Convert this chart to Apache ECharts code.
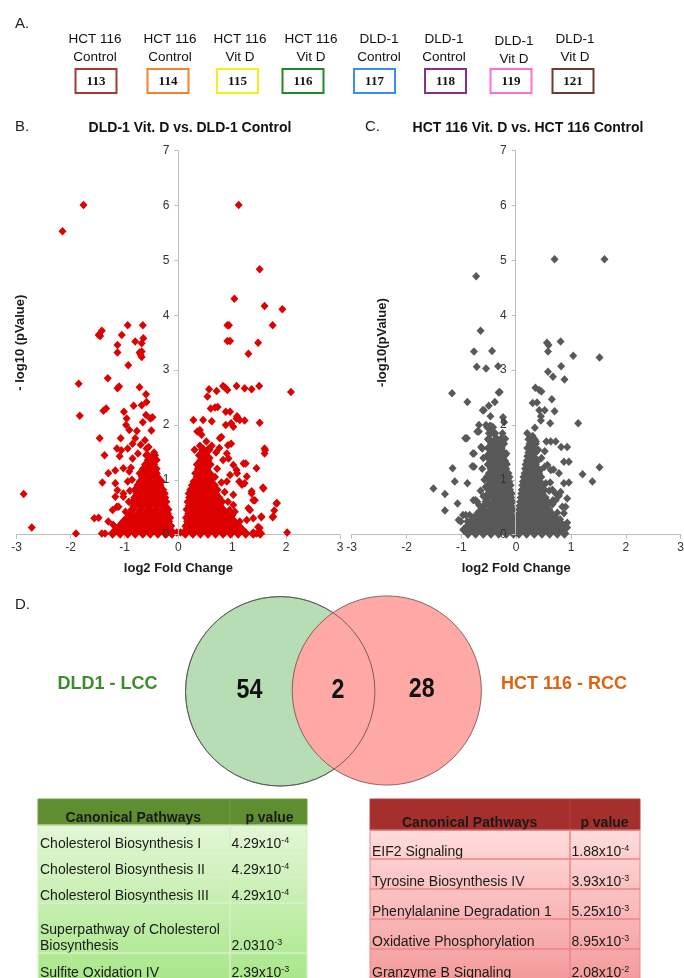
<!DOCTYPE html>
<html><head><meta charset="utf-8">
<script src="https://cdn.jsdelivr.net/npm/echarts@6/dist/echarts.min.js"></script>
<style>html,body{margin:0;padding:0;background:#fff}#c{width:684px;height:978px}</style>
</head><body><div id="c"></div>
<script>
// ---------- Panel A data ----------
const sampleLine1 = ['HCT 116','HCT 116','HCT 116','HCT 116','DLD-1','DLD-1','DLD-1','DLD-1'];
const sampleLine2 = ['Control','Control','Vit D','Vit D','Control','Control','Vit D','Vit D'];
const sampleTags = ['113','114','115','116','117','118','119','121'];
const tagColors = ['#a33b35','#f5822f','#f3ee1c','#1f8a2b','#3d8cf0','#8b2f8c','#ff6fd3','#6e3b33'];

// ---------- Volcano titles / ticks ----------
const plotTitles = ['DLD-1 Vit. D vs. DLD-1 Control','HCT 116 Vit. D vs. HCT 116 Control'];
const yAxisNames = ['- log10 (pValue)','-log10(pValue)'];
const xAxisName = 'log2 Fold Change';

// ---------- DLD-1 (B) points: scattered values ----------
const dldScatter = [
[-2.87,0.74],[-2.72,0.13],[-1.90,0.02],[-2.15,5.53],[-1.76,6.01],
[-1.85,2.75],[-1.83,2.17],[-1.48,3.64],[-1.42,3.72],[-1.45,3.62],
[-0.94,3.82],[-0.66,3.82],[-1.05,3.64],[-1.13,3.46],[-1.13,3.32],[-0.93,3.09],
[-0.65,3.58],[-0.68,3.49],[-0.80,3.52],[-0.72,3.32],[-0.68,3.24],[-0.68,3.34],[-0.70,3.28],
[-1.31,2.85],[-1.13,2.67],[-1.10,2.70],[-0.72,2.69],[-0.60,2.56],
[-1.39,2.26],[-1.34,2.30],[-0.83,2.35],[-0.68,2.36],[-1.01,2.24],[-0.96,2.12],[-0.97,2.00],
[-0.60,2.18],[-0.48,2.14],[-0.52,2.12],[-0.59,2.42],
[-1.46,1.76],[-1.07,1.76],[-0.77,1.89],[-1.14,1.57],[-1.37,1.45],[-1.09,1.43],[-0.85,1.39],[-0.94,1.57],[-0.59,1.57],
[-1.30,1.12],[-1.17,1.17],[-1.41,0.95],[-1.17,0.94],[-1.56,0.30],[-1.48,0.31],[-1.42,0.02],[-1.36,0.02],
[-1.22,0.45],[-1.14,0.51],[-1.17,0.69],[-1.13,0.81],[-1.02,0.69],[-0.96,0.27],[-1.05,0.21],
[-1.02,1.21],[-0.94,0.97],[-0.91,1.15],[-1.06,1.54],[-0.85,1.66],[-0.91,1.91],[-1.30,0.24],[-1.21,0.18],[-1.11,0.51],[-1.02,0.75],
[-0.80,1.76],[-0.70,1.64],[-0.62,1.72],[-0.55,1.60],[-0.45,1.50],[-0.50,1.35],[-0.75,1.48],[-0.88,1.22],[-0.86,1.00],[-0.90,0.80],
[-0.92,0.60],[-0.98,0.42],[-0.50,1.90],[-0.66,2.05],[-0.40,1.12],[-0.36,1.00],
[-0.10,0.05],[-0.03,0.04],[0.04,0.04],[0.10,0.05],
[1.12,6.01],[1.51,4.84],[1.04,4.30],[1.60,4.17],[1.93,4.11],[1.75,3.82],[0.91,3.82],[0.94,3.82],[0.91,3.53],[0.96,3.53],[1.48,3.50],[1.30,3.30],
[2.09,2.60],[1.50,2.71],[1.08,2.71],[1.23,2.67],[1.36,2.65],[0.83,2.71],[0.91,2.64],[0.57,2.65],[0.54,2.52],[0.71,2.62],[0.87,2.68],
[0.73,2.33],[0.88,2.24],[0.96,2.24],[1.09,2.16],[1.14,2.09],[1.23,2.08],[1.51,2.04],[0.88,2.00],[0.98,2.03],[1.02,1.97],
[0.28,2.09],[0.46,2.09],[0.40,1.91],[0.43,1.82],[0.62,2.07],[0.60,2.30],[0.68,2.32],
[1.60,1.57],[1.60,1.48],[1.25,1.30],[1.45,1.21],[1.57,0.86],[1.83,0.58],[1.78,0.44],[1.75,0.32],[1.54,0.32],[2.02,0.04],
[0.98,1.66],[0.77,1.76],[0.90,1.48],[0.93,1.39],[1.02,1.27],[1.09,1.12],[1.13,0.97],[1.23,0.94],[1.36,0.75],[1.39,0.63],
[1.30,0.48],[1.39,0.30],[1.27,0.27],[1.14,0.24],[1.05,0.42],[1.02,0.54],[1.51,0.12],[1.45,0.02],
[1.08,1.18],[1.21,1.30],[1.27,1.06],[1.18,0.91],[1.36,0.79],[1.42,0.63],[1.58,0.84],[1.61,1.54],[1.82,0.57],[1.76,0.33],
[1.54,0.33],[1.48,0.14],[1.33,0.45],[1.02,0.73],[0.90,0.97],[0.96,1.09],[0.83,1.36],[0.92,1.63],[0.80,1.78],[1.08,2.12],
[0.70,1.50],[0.62,1.62],[0.40,1.62],[0.52,1.70],[0.35,1.88],[0.30,1.55],[0.58,1.40],[0.72,1.20],[0.68,1.05],[0.80,0.95],
[0.86,0.78],[0.92,0.60],[0.95,0.45],[1.00,0.35],[0.76,1.58],[0.45,1.20]
];
// DLD-1 dense cores: [y, [x values]] read row by row
const dldCoreLeft = [
[0.02,[-1.22,-1.08,-0.94,-0.80,-0.66,-0.52,-0.38,-0.24,-0.12]],
[0.09,[-1.15,-1.01,-0.87,-0.73,-0.59,-0.45,-0.31,-0.18]],
[0.16,[-1.08,-0.94,-0.80,-0.66,-0.52,-0.38,-0.24,-0.15]],
[0.24,[-1.01,-0.87,-0.73,-0.59,-0.45,-0.31,-0.19]],
[0.31,[-0.94,-0.80,-0.66,-0.52,-0.38,-0.25,-0.17]],
[0.38,[-0.89,-0.74,-0.60,-0.46,-0.32,-0.21]],
[0.46,[-0.85,-0.70,-0.56,-0.42,-0.28,-0.20]],
[0.53,[-0.82,-0.68,-0.54,-0.40,-0.26]],
[0.60,[-0.84,-0.74,-0.61,-0.47,-0.33,-0.24]],
[0.68,[-0.80,-0.66,-0.52,-0.38,-0.26]],
[0.75,[-0.76,-0.62,-0.48,-0.34,-0.27]],
[0.82,[-0.79,-0.68,-0.55,-0.41,-0.30]],
[0.90,[-0.74,-0.61,-0.48,-0.35]],
[0.97,[-0.70,-0.56,-0.42,-0.33]],
[1.05,[-0.66,-0.52,-0.40]],
[1.12,[-0.70,-0.59,-0.46]],
[1.20,[-0.64,-0.52,-0.42]],
[1.28,[-0.60,-0.47]],
[1.36,[-0.55,-0.42]],
[1.45,[-0.58,-0.45]]
];
const dldCoreRight = [
[0.02,[0.13,0.27,0.41,0.55,0.69,0.83,0.97,1.11,1.25,1.39,1.52]],
[0.09,[0.18,0.34,0.48,0.62,0.76,0.90,1.04,1.18]],
[0.16,[0.15,0.27,0.41,0.55,0.69,0.83,0.97,1.11]],
[0.24,[0.18,0.34,0.48,0.62,0.76,0.90,1.03]],
[0.31,[0.16,0.27,0.41,0.55,0.69,0.83,0.95]],
[0.38,[0.20,0.34,0.48,0.62,0.76,0.88]],
[0.46,[0.17,0.27,0.41,0.55,0.69,0.82]],
[0.53,[0.21,0.34,0.48,0.62,0.76]],
[0.60,[0.19,0.27,0.41,0.55,0.69,0.80]],
[0.68,[0.22,0.34,0.48,0.62,0.74]],
[0.75,[0.21,0.29,0.41,0.55,0.68]],
[0.82,[0.24,0.36,0.48,0.62,0.71]],
[0.90,[0.27,0.41,0.55,0.66]],
[0.97,[0.30,0.45,0.59]],
[1.05,[0.36,0.50,0.62]],
[1.12,[0.33,0.44,0.57]],
[1.20,[0.38,0.52]],
[1.28,[0.36,0.47,0.58]],
[1.36,[0.43,0.54]],
[1.45,[0.40,0.50]],
[1.55,[0.46,0.56]]
];

// ---------- HCT 116 (C) points ----------
const hctScatter = [
[0.70,5.02],[1.61,5.02],[-0.73,4.71],[-0.65,3.72],[-0.77,3.34],[-0.44,3.35],[-0.72,3.06],[-0.55,3.03],[-0.33,3.07],
[0.56,3.50],[0.59,3.46],[0.81,3.52],[0.58,3.34],[1.04,3.26],[1.52,3.23],[0.82,3.07],[0.58,2.97],[0.67,2.88],[0.88,2.83],
[0.35,2.68],[0.42,2.64],[0.46,2.61],[0.38,2.41],[0.65,2.47],[0.70,2.25],[0.52,2.27],
[-1.17,2.58],[-0.89,2.42],[-0.59,2.27],[-0.50,2.35],[-0.39,2.42],[-0.32,2.59],[-0.30,2.60],[-0.24,2.14],[-0.68,2.00],
[-0.71,1.88],[-0.47,2.16],[-0.48,1.98],[-0.42,1.96],[-0.53,1.96],
[-0.90,1.76],[-0.62,1.57],[-0.77,1.48],[-0.77,1.24],[-1.16,1.21],[-1.12,0.97],[-0.89,0.94],[-1.51,0.84],[-1.30,0.74],
[-1.07,0.57],[-1.30,0.44],[-1.05,0.27],[-0.92,0.36],[-0.89,0.24],[-0.78,0.63],[-0.71,0.60],[-0.56,0.87],[-0.53,1.06],
[-0.22,1.30],[-0.18,1.48],[-0.22,1.66],[-0.20,1.45],[-0.18,1.30],[-0.20,1.75],[-0.25,1.85],[-0.22,2.05],
[0.52,1.24],[0.44,1.18],[0.68,1.19],[0.78,1.12],[0.93,1.60],[0.96,1.33],[0.72,1.70],[0.55,1.70],[0.52,1.52],
[1.13,2.03],[1.21,1.10],[1.39,0.97],[1.52,1.23],[0.96,0.95],[0.81,0.78],[0.78,0.71],[0.93,0.66],[0.90,0.51],[0.93,0.22],
[0.93,0.13],[0.67,0.63],[0.56,0.45],[0.62,0.39],
[-0.93,1.76],[-0.79,1.48],[-0.80,1.25],[-0.74,0.63],[-0.68,0.54],[-0.97,0.36],[-1.01,0.24],[-0.85,0.36],[-0.68,1.88],
[-0.64,1.60],[-0.55,2.00],[-0.46,1.98],[-0.61,2.27],
[0.30,2.40],[0.42,2.27],[0.45,2.16],[0.45,2.08],[0.62,2.03],[0.63,1.70],[0.82,1.60],[0.87,1.33],[0.87,0.94],[0.63,1.18],
[0.57,1.27],[0.54,0.94],[0.66,0.82],[0.72,0.75],[0.72,0.63],[0.84,0.51],[0.87,0.39],[0.84,0.18],[0.84,0.13],
[0.30,1.80],[0.36,1.70],[0.40,1.55],[0.46,1.40],[0.34,1.95],[0.20,1.85],[-0.60,1.40],[-0.62,1.20],[-0.58,1.00],
[-0.65,0.80],[-0.60,0.70],[-0.70,0.40],[-0.78,0.32],[0.62,0.95],[0.60,0.80],[0.66,0.55],[0.75,0.40],[0.80,0.28]
];
const hctCoreLeft = [
[0.02,[-0.88,-0.74,-0.60,-0.46,-0.32,-0.18,-0.05]],
[0.09,[-0.95,-0.81,-0.67,-0.53,-0.39,-0.25,-0.11]],
[0.16,[-0.88,-0.74,-0.60,-0.46,-0.32,-0.18,-0.05]],
[0.24,[-0.81,-0.67,-0.53,-0.39,-0.25,-0.11]],
[0.31,[-0.74,-0.60,-0.46,-0.32,-0.18,-0.06]],
[0.38,[-0.67,-0.53,-0.39,-0.25,-0.11]],
[0.46,[-0.62,-0.46,-0.32,-0.18,-0.07]],
[0.53,[-0.58,-0.46,-0.39,-0.25,-0.11]],
[0.60,[-0.54,-0.42,-0.32,-0.18,-0.08]],
[0.68,[-0.53,-0.39,-0.25,-0.11]],
[0.75,[-0.50,-0.42,-0.32,-0.18,-0.10]],
[0.82,[-0.48,-0.39,-0.25,-0.13]],
[0.90,[-0.50,-0.42,-0.32,-0.19,-0.12]],
[0.97,[-0.46,-0.38,-0.25,-0.14]],
[1.05,[-0.45,-0.32,-0.20,-0.14]],
[1.12,[-0.48,-0.38,-0.26,-0.16]],
[1.20,[-0.45,-0.33,-0.20]],
[1.28,[-0.50,-0.38,-0.26,-0.19]],
[1.35,[-0.46,-0.34,-0.22]],
[1.43,[-0.52,-0.40,-0.28]],
[1.50,[-0.46,-0.34,-0.24]],
[1.58,[-0.50,-0.38,-0.28]],
[1.66,[-0.44,-0.32]],
[1.74,[-0.50,-0.36,-0.27]],
[1.85,[-0.48,-0.40]]
];
const hctCoreRight = [
[0.02,[0.05,0.19,0.33,0.47,0.61,0.75,0.88]],
[0.09,[0.00,0.12,0.26,0.40,0.54,0.68,0.82]],
[0.16,[0.05,0.19,0.33,0.47,0.61,0.75,0.86]],
[0.24,[0.06,0.12,0.26,0.40,0.54,0.68,0.78]],
[0.31,[0.05,0.19,0.33,0.47,0.61,0.70]],
[0.38,[0.06,0.12,0.26,0.40,0.54,0.64]],
[0.46,[0.07,0.19,0.33,0.47,0.58]],
[0.53,[0.08,0.14,0.26,0.40,0.54]],
[0.60,[0.09,0.19,0.33,0.47,0.56]],
[0.68,[0.10,0.16,0.26,0.40,0.52]],
[0.75,[0.11,0.21,0.33,0.46]],
[0.82,[0.12,0.18,0.28,0.40,0.50]],
[0.90,[0.13,0.23,0.35,0.46]],
[0.97,[0.14,0.20,0.30,0.42]],
[1.05,[0.15,0.25,0.36,0.44]],
[1.12,[0.17,0.24,0.32,0.40]],
[1.20,[0.18,0.28,0.38]],
[1.28,[0.19,0.26,0.34]],
[1.35,[0.21,0.30,0.38]],
[1.43,[0.22,0.30]],
[1.50,[0.24,0.34]],
[1.58,[0.22,0.30]],
[1.66,[0.26,0.34]],
[1.74,[0.24,0.32]]
];

// ---------- Panel D data ----------
const vennSets = ['DLD1 - LCC','HCT 116 - RCC'];
const vennCounts = [54, 2, 28];
const lccPathways = ['Cholesterol Biosynthesis I','Cholesterol Biosynthesis II','Cholesterol Biosynthesis III','Superpathway of Cholesterol\nBiosynthesis','Sulfite Oxidation IV'];
const lccMantissa = ['4.29x10','4.29x10','4.29x10','2.0310','2.39x10'];
const lccExponent = ['-4','-4','-4','-3','-3'];
const rccPathways = ['EIF2 Signaling','Tyrosine Biosynthesis IV','Phenylalanine Degradation 1','Oxidative Phosphorylation','Granzyme B Signaling'];
const rccMantissa = ['1.88x10','3.93x10','5.25x10','8.95x10','2.08x10'];
const rccExponent = ['-4','-3','-3','-3','-2'];
const tableHeaders = ['Canonical Pathways','p value'];

// ---------- build ----------
const FONT = "'Liberation Sans', Arial, Helvetica, sans-serif";
function rowsToPoints(rows){ const p=[]; rows.forEach(r=>r[1].forEach(x=>p.push([x,r[0]]))); return p; }
const dldCorePoints = rowsToPoints(dldCoreLeft).concat(rowsToPoints(dldCoreRight));
const hctCorePoints = rowsToPoints(hctCoreLeft).concat(rowsToPoints(hctCoreRight));

function txt(text, x, y, font, fill, align, valign, extra){
  return {type:'text', silent:true, style:Object.assign({text, x, y, font, fill,
    align:align||'center', verticalAlign:valign||'middle', textAlign:align||'center', textVerticalAlign:valign||'middle'}, extra||{})};
}

const G = [];
// panel letters
G.push(txt('A.', 15, 24, '15px '+FONT, '#222', 'left'));
G.push(txt('B.', 15, 127, '15px '+FONT, '#222', 'left'));
G.push(txt('C.', 365, 127, '15px '+FONT, '#222', 'left'));
G.push(txt('D.', 15, 605, '15px '+FONT, '#222', 'left'));

// panel A
const labelCx = [95,170,240,311,379,444,514,575];
const boxCx = [96,168,237.5,303,374.5,445.5,511,573];
sampleTags.forEach((t,i)=>{
  const dy = (i===6) ? 2 : 0;
  G.push(txt(sampleLine1[i], labelCx[i], 39+dy, '13.5px '+FONT, '#111'));
  G.push(txt(sampleLine2[i], labelCx[i], 57+dy, '13.5px '+FONT, '#111'));
  G.push({type:'rect', silent:true, shape:{x:boxCx[i]-20.5, y:69, width:41, height:24},
    style:{fill:'#fff', stroke:tagColors[i], lineWidth:2}});
  G.push(txt(t, boxCx[i], 81.5, 'bold 13px "Liberation Serif", "Times New Roman", serif', '#111'));
});

// titles
G.push(txt(plotTitles[0], 190, 128, 'bold 14px '+FONT, '#111'));
G.push(txt(plotTitles[1], 528, 128, 'bold 14px '+FONT, '#111'));

// venn
G.push({type:'circle', silent:true, shape:{cx:280.2, cy:691.3, r:94.7}, style:{fill:'#b6ddb4', stroke:'#5a6a58', lineWidth:0.8}});
G.push({type:'circle', silent:true, shape:{cx:386.8, cy:690.5, r:94.6}, style:{fill:'#ffa9a7', stroke:'#6a4a4a', lineWidth:0.8}});
G.push({type:'circle', silent:true, shape:{cx:280.2, cy:691.3, r:94.7}, style:{fill:null, stroke:'#5a4848', lineWidth:0.8}});
const numPos = [[249.5,691],[338,691],[421.7,690]];
vennCounts.forEach((v,i)=>{
  G.push({type:'text', silent:true, x:numPos[i][0], y:numPos[i][1], scaleX:0.86,
    style:{text:String(v), x:0, y:0, font:'bold 27px '+FONT, fill:'#111',
      align:'center', verticalAlign:'middle', textAlign:'center', textVerticalAlign:'middle'}});
});
G.push(txt(vennSets[0], 107.5, 684, 'bold 18px '+FONT, '#3d8b2c'));
G.push(txt(vennSets[1], 564, 684, 'bold 18px '+FONT, '#e0620f'));

// tables
function buildTable(cfg){
  const {x0, xd, x1, hTop, hBot, rowBottoms, headFill, bodyTop, bodyBot, border, headBorder, names, mant, exps, hx1, hx2} = cfg;
  G.push({type:'rect', silent:true, shape:{x:x0, y:hBot, width:x1-x0, height:rowBottoms[rowBottoms.length-1]-hBot},
    style:{fill:new echarts.graphic.LinearGradient(0,0,0,1,[{offset:0,color:bodyTop},{offset:1,color:bodyBot}])}});
  G.push({type:'rect', silent:true, shape:{x:x0, y:hTop, width:x1-x0, height:hBot-hTop}, style:{fill:headFill, stroke:headBorder, lineWidth:1}});
  G.push({type:'line', silent:true, shape:{x1:xd, y1:hTop, x2:xd, y2:hBot}, style:{stroke:headBorder, lineWidth:1}});
  G.push(txt(tableHeaders[0], hx1, hBot-7, 'bold 14px '+FONT, '#1a1a1a'));
  G.push(txt(tableHeaders[1], hx2, hBot-7, 'bold 14px '+FONT, '#1a1a1a'));
  let top = hBot;
  names.forEach((n,i)=>{
    const bot = rowBottoms[i];
    G.push({type:'rect', silent:true, shape:{x:x0, y:top, width:xd-x0, height:bot-top}, style:{fill:null, stroke:border, lineWidth:1}});
    G.push({type:'rect', silent:true, shape:{x:xd, y:top, width:x1-xd, height:bot-top}, style:{fill:null, stroke:border, lineWidth:1}});
    G.push(txt(n, x0+2, bot+1, '14px '+FONT, '#1a1a1a', 'left', 'bottom', {lineHeight:16}));
    G.push({type:'text', silent:true, style:{
      text:'{m|'+mant[i]+'}{e|'+exps[i]+'}', x:xd+1.5, y:bot+1, align:'left', verticalAlign:'bottom',
      textAlign:'left', textVerticalAlign:'bottom',
      rich:{m:{font:'14px '+FONT, fill:'#1a1a1a', color:'#1a1a1a', lineHeight:16},
            e:{font:'9px '+FONT, fill:'#1a1a1a', color:'#1a1a1a', verticalAlign:'top', lineHeight:9}}}});
    top = bot;
  });
}
buildTable({x0:38, xd:230, x1:307, hTop:799, hBot:825, rowBottoms:[851,877,903,953,980],
  headFill:'#5f8e30', bodyTop:'#e3f7d6', bodyBot:'#a9e78a', border:'#d6f1c6', headBorder:'#6f9c40',
  names:lccPathways, mant:lccMantissa, exps:lccExponent, hx1:133.3, hx2:269.5});
buildTable({x0:370, xd:570, x1:640, hTop:799, hBot:830, rowBottoms:[859,889,919,949,980],
  headFill:'#a52f2c', bodyTop:'#ffdcdc', bodyBot:'#f49b9b', border:'#ee8585', headBorder:'#b54040',
  names:rccPathways, mant:rccMantissa, exps:rccExponent, hx1:469.7, hx2:604.5});

// axes
function xAx(gi){
  return {gridIndex:gi, type:'value', min:-3, max:3, interval:1,
    axisLine:{show:true, onZero:false, lineStyle:{color:'#bdbdbd', width:1}},
    axisTick:{show:true, length:4, lineStyle:{color:'#bdbdbd'}},
    axisLabel:{color:'#333', fontSize:12, fontFamily:FONT, margin:7, showMinLabel:true, showMaxLabel:true},
    splitLine:{show:false},
    name:xAxisName, nameLocation:'middle', nameGap:27, nameMoveOverlap:false,
    nameTextStyle:{fontWeight:'bold', fontSize:13, fontFamily:FONT, color:'#1a1a1a'}};
}
function yAx(gi, name, gap, off){
  return {gridIndex:gi, type:'value', min:0, max:7, interval:1, position:'left', offset:off, z:5,
    axisLine:{show:true, onZero:false, lineStyle:{color:'#bdbdbd', width:1}},
    axisTick:{show:true, length:4, lineStyle:{color:'#bdbdbd'}},
    axisLabel:{color:'#333', fontSize:12, fontFamily:FONT, margin:9, showMinLabel:true, showMaxLabel:true, hideOverlap:false},
    splitLine:{show:false},
    name:name, nameLocation:'middle', nameGap:gap, nameRotate:90, nameMoveOverlap:false,
    nameTextStyle:{fontWeight:'bold', fontSize:13, fontFamily:FONT, color:'#1a1a1a'}};
}

const chart = echarts.init(document.getElementById('c'), null, {renderer:'canvas'});
chart.setOption({
  animation:false,
  backgroundColor:'#ffffff',
  textStyle:{fontFamily:FONT},
  grid:[
    {left:16.7, top:150.7, width:323.3, height:384, containLabel:false, outerBoundsMode:'none'},
    {left:351.7, top:150.7, width:329, height:384, containLabel:false, outerBoundsMode:'none'}
  ],
  xAxis:[xAx(0), xAx(1)],
  yAxis:[yAx(0, yAxisNames[0], 151, -161.6), yAx(1, yAxisNames[1], 127, -164)],
  series:[
    {type:'scatter', xAxisIndex:0, yAxisIndex:0, data:dldCorePoints, symbol:'diamond', symbolSize:[10,10.5],
     itemStyle:{color:'#dd0000', opacity:1}, silent:true, clip:false},
    {type:'scatter', xAxisIndex:0, yAxisIndex:0, data:dldScatter, symbol:'diamond', symbolSize:[8,8.5],
     itemStyle:{color:'#dd0000', opacity:1}, silent:true, clip:false},
    {type:'scatter', xAxisIndex:1, yAxisIndex:1, data:hctCorePoints, symbol:'diamond', symbolSize:[10,10.5],
     itemStyle:{color:'#595959', opacity:1}, silent:true, clip:false},
    {type:'scatter', xAxisIndex:1, yAxisIndex:1, data:hctScatter, symbol:'diamond', symbolSize:[8,8.5],
     itemStyle:{color:'#595959', opacity:1}, silent:true, clip:false}
  ],
  graphic:{elements:G}
});
</script></body></html>
